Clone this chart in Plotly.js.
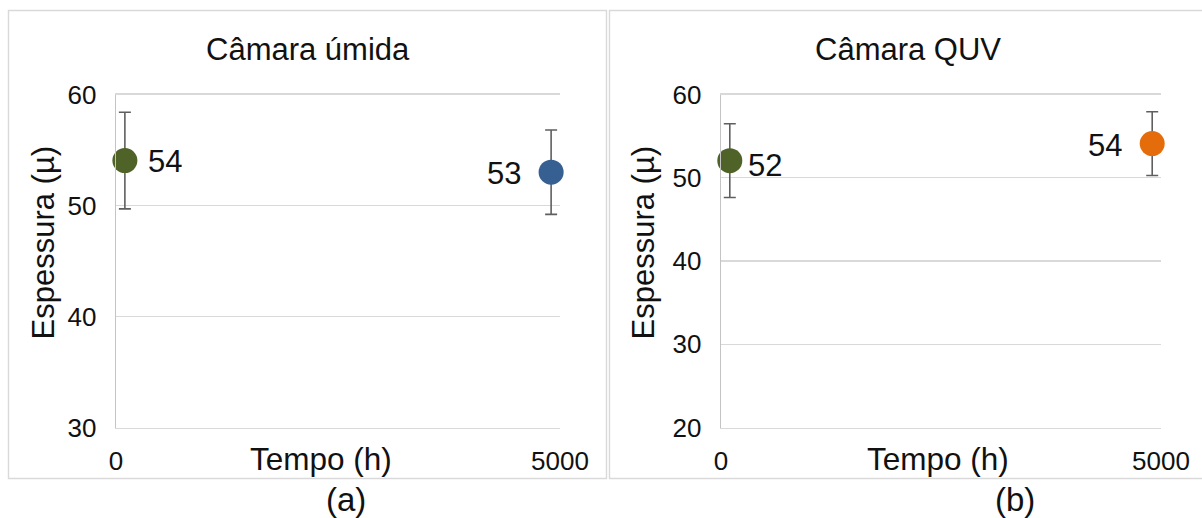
<!DOCTYPE html>
<html>
<head>
<meta charset="utf-8">
<script src="https://cdn.plot.ly/plotly-3.0.1.min.js"></script>
<style>html,body{margin:0;padding:0;background:#fff;}#chart{width:1202px;height:518px;}</style>
</head>
<body>
<div id="chart"></div>
<script>
// ---- data ----
const panelTitles = ["Câmara úmida", "Câmara QUV"];
const panelTags = ["(a)", "(b)"];
const xTitle = "Tempo (h)";
const yTitle = "Espessura (µ)";
const xTickVals = [0, 5000];
const xTickText = ["0", "5000"];
const timeH = [100, 4900];
const humidThickness = [54.05, 53.0];
const humidError = [4.35, 3.8];
const humidLabels = ["54", "53"];
const quvThickness = [52.05, 54.1];
const quvError = [4.43, 3.83];
const quvLabels = ["52", "54"];
const humidYRange = [30, 60];
const quvYRange = [20, 60];
const yTickStep = 10;

// ---- styling ----
const FONT = "'Liberation Sans', Arial, sans-serif";
const W = 1202, H = 518;
const px = v => v / W;
const py = v => 1 - v / H;
const green = "#4F6228", blue = "#376092", orange = "#E46C0A";
const humidColors = [green, blue];
const quvColors = [green, orange];

function trace(y, err, colors, xa, ya) {
  return {
    type: "scatter", mode: "markers",
    x: timeH, y: y, xaxis: xa, yaxis: ya,
    marker: {size: 25, color: colors, line: {width: 0}},
    error_y: {type: "data", array: err, visible: true, color: "#5f5f5f", thickness: 1.6, width: 6},
    hoverinfo: "skip", showlegend: false, cliponaxis: false
  };
}

const data = [
  trace(humidThickness, humidError, humidColors, "x", "y"),
  trace(quvThickness, quvError, quvColors, "x2", "y2")
];

function xaxis(domain) {
  return {
    domain: domain, range: [0, 5000], tickvals: xTickVals, ticktext: xTickText,
    showgrid: false, zeroline: false,
    showline: true, mirror: true, linecolor: "#d9d9d9", linewidth: 1.4,
    ticks: "", ticklabelstandoff: 10,
    tickfont: {family: FONT, size: 26, color: "#111"}, fixedrange: true
  };
}
function yaxis(domain, range, anchor) {
  return {
    domain: domain, range: range, anchor: anchor, dtick: yTickStep, tick0: 0,
    showgrid: true, gridcolor: "#d9d9d9", gridwidth: 1.4,
    showline: true, linecolor: "#c4c4c4", linewidth: 1.4,
    zeroline: false, ticks: "", ticklabelstandoff: 13,
    tickfont: {family: FONT, size: 26, color: "#111"}, fixedrange: true
  };
}

const yDom = [py(427.5), py(94.5)];
const layout = {
  width: W, height: H,
  margin: {l: 0, r: 0, t: 0, b: 0, pad: 0},
  paper_bgcolor: "#fff", plot_bgcolor: "rgba(0,0,0,0)",
  showlegend: false,
  xaxis: Object.assign(xaxis([px(116), px(560)]), {anchor: "y"}),
  yaxis: yaxis(yDom, humidYRange, "x"),
  xaxis2: Object.assign(xaxis([px(721), px(1161)]), {anchor: "y2"}),
  yaxis2: yaxis(yDom, quvYRange, "x2"),
  shapes: [
    {type: "rect", xref: "paper", yref: "paper", x0: px(8.5), x1: px(606.5), y0: py(478.5), y1: py(10.5),
     line: {color: "#d9d9d9", width: 1.4}, fillcolor: "rgba(0,0,0,0)", layer: "below"},
    {type: "rect", xref: "paper", yref: "paper", x0: px(609.5), x1: px(1206), y0: py(478.5), y1: py(10.5),
     line: {color: "#d9d9d9", width: 1.4}, fillcolor: "rgba(0,0,0,0)", layer: "below"}
  ],
  annotations: []
};

const ann = layout.annotations;
const txt = (s, x, y, size, extra) => Object.assign({
  text: s, xref: "paper", yref: "paper", x: px(x), y: py(y), showarrow: false,
  xanchor: "center", yanchor: "middle", font: {family: FONT, size: size, color: "#111"}
}, extra || {});
// panel titles
ann.push(txt(panelTitles[0], 307.5, 49, 31));
ann.push(txt(panelTitles[1], 908, 49, 31));
// x titles (on the tick label row)
ann.push(txt(xTitle, 321, 459, 31.5));
ann.push(txt(xTitle, 938, 459, 31.5));
// y titles
ann.push(txt(yTitle, 43, 242.5, 31, {textangle: -90}));
ann.push(txt(yTitle, 643, 242.5, 31, {textangle: -90}));
// panel tags
ann.push(txt(panelTags[0], 346, 499, 33));
ann.push(txt(panelTags[1], 1015, 499, 33));

// data labels
const labelStyle = [
  {xanchor: "left", xshift: 21, yshift: -1},
  {xanchor: "right", xshift: -28, yshift: -1}
];
const quvLabelStyle = [
  {xanchor: "left", xshift: 16, yshift: -5},
  {xanchor: "right", xshift: -28, yshift: -2}
];
humidLabels.forEach((t, i) => ann.push(Object.assign({
  text: t, xref: "x", yref: "y", x: timeH[i], y: humidThickness[i], showarrow: false,
  yanchor: "middle", font: {family: FONT, size: 31, color: "#111"}
}, labelStyle[i])));
quvLabels.forEach((t, i) => ann.push(Object.assign({
  text: t, xref: "x2", yref: "y2", x: timeH[i], y: quvThickness[i], showarrow: false,
  yanchor: "middle", font: {family: FONT, size: 31, color: "#111"}
}, quvLabelStyle[i])));

Plotly.newPlot("chart", data, layout, {staticPlot: true, displayModeBar: false});
</script>
</body>
</html>
